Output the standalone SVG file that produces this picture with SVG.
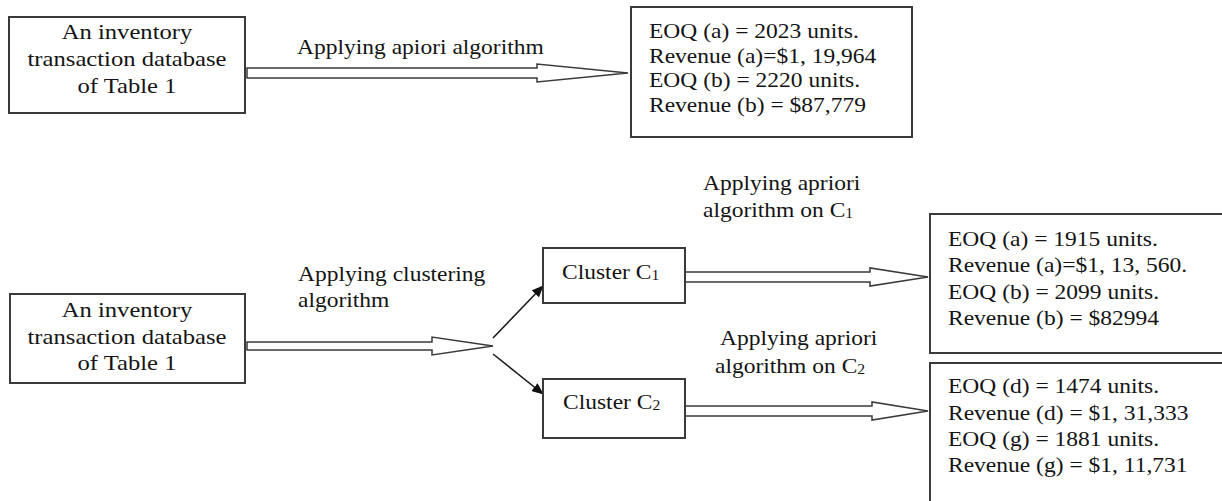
<svg xmlns="http://www.w3.org/2000/svg" width="1222" height="501" viewBox="0 0 1222 501">
  <style>
    .box { fill: #ffffff; stroke: #3a3a3a; stroke-width: 2; }
    .hollow { fill: #ffffff; stroke: #3a3a3a; stroke-width: 1.5; stroke-linejoin: miter; }
    .link { fill: none; stroke: #1a1a1a; stroke-width: 1.6; }
    text { font-family: "Liberation Serif", "Times New Roman", serif; fill: #141414; }
    .in { font-size: 22px; text-anchor: middle; }
    .t { font-size: 21px; }
    .sub { font-size: 14px; }
  </style>
  <defs>
    <marker id="solidHead" viewBox="0 0 12 10" refX="11" refY="5" markerWidth="12" markerHeight="10" markerUnits="userSpaceOnUse" orient="auto">
      <path d="M0,0 L12,5 L0,10 Z" fill="#111111"/>
    </marker>
  </defs>

  <rect width="1222" height="501" fill="#ffffff"/>

  <!-- connectors -->
  <g id="connectors">
    <polygon class="hollow" points="247,68 537,68 537,64 628,73 537,82 537,78 247,78"/>
    <polygon class="hollow" points="247,342 432,342 432,337 493,346 432,355 432,350 247,350"/>
    <polygon class="hollow" points="685,272 870,272 870,268 928,277 870,286 870,282 685,282"/>
    <polygon class="hollow" points="685,406 872,406 872,402 928,411 872,420 872,416 685,416"/>
    <line class="link" x1="493" y1="338" x2="543" y2="286" marker-end="url(#solidHead)"/>
    <line class="link" x1="493" y1="354" x2="543" y2="394" marker-end="url(#solidHead)"/>
  </g>

  <!-- connector labels -->
  <g id="labels">
    <text class="t" transform="translate(297,54) scale(1.12,1)">Applying apiori algorithm</text>
    <text class="t" transform="translate(298,281) scale(1.12,1)">Applying clustering</text>
    <text class="t" transform="translate(298,307) scale(1.12,1)">algorithm</text>
    <text class="t" transform="translate(703,190) scale(1.12,1)">Applying apriori</text>
    <text class="t" transform="translate(703,217) scale(1.12,1)">algorithm on C<tspan class="sub" dy="1">1</tspan></text>
    <text class="t" transform="translate(720,345) scale(1.12,1)">Applying apriori</text>
    <text class="t" transform="translate(715,373) scale(1.12,1)">algorithm on C<tspan class="sub" dy="1">2</tspan></text>
  </g>

  <!-- input database, top flow -->
  <g id="db-top">
    <rect class="box" x="9" y="17" width="236" height="96"/>
    <text class="in" transform="translate(127,39) scale(1.12,1)">An inventory</text>
    <text class="in" transform="translate(127,66) scale(1.12,1)">transaction database</text>
    <text class="in" transform="translate(127,93) scale(1.12,1)">of Table 1</text>
  </g>

  <!-- result of apriori on the whole database -->
  <g id="result-top">
    <rect class="box" x="631" y="7" width="281" height="130"/>
    <text class="t" transform="translate(649,38) scale(1.12,1)">EOQ (a) = 2023 units.</text>
    <text class="t" transform="translate(649,63) scale(1.12,1)">Revenue (a)=$1, 19,964</text>
    <text class="t" transform="translate(649,87) scale(1.12,1)">EOQ (b) = 2220 units.</text>
    <text class="t" transform="translate(649,112) scale(1.12,1)">Revenue (b) = $87,779</text>
  </g>

  <!-- input database, clustered flow -->
  <g id="db-bottom">
    <rect class="box" x="10" y="294" width="235" height="89"/>
    <text class="in" transform="translate(127,317) scale(1.12,1)">An inventory</text>
    <text class="in" transform="translate(127,344) scale(1.12,1)">transaction database</text>
    <text class="in" transform="translate(127,370) scale(1.12,1)">of Table 1</text>
  </g>

  <g id="cluster-c1">
    <rect class="box" x="543" y="248" width="142" height="55"/>
    <text class="t" transform="translate(562,279) scale(1.12,1)">Cluster C<tspan class="sub" dy="1">1</tspan></text>
  </g>

  <g id="cluster-c2">
    <rect class="box" x="543" y="379" width="142" height="59"/>
    <text class="t" transform="translate(563,409) scale(1.12,1)">Cluster C<tspan class="sub" dy="1">2</tspan></text>
  </g>

  <g id="result-c1">
    <rect class="box" x="930" y="214" width="310" height="139"/>
    <text class="t" transform="translate(948,246) scale(1.12,1)">EOQ (a) = 1915 units.</text>
    <text class="t" transform="translate(948,272) scale(1.12,1)">Revenue (a)=$1, 13, 560.</text>
    <text class="t" transform="translate(948,299) scale(1.12,1)">EOQ (b) = 2099 units.</text>
    <text class="t" transform="translate(948,325) scale(1.12,1)">Revenue (b) = $82994</text>
  </g>

  <g id="result-c2">
    <rect class="box" x="930" y="363" width="310" height="160"/>
    <text class="t" transform="translate(948,393) scale(1.12,1)">EOQ (d) = 1474 units.</text>
    <text class="t" transform="translate(948,420) scale(1.12,1)">Revenue (d) = $1, 31,333</text>
    <text class="t" transform="translate(948,446) scale(1.12,1)">EOQ (g) = 1881 units.</text>
    <text class="t" transform="translate(948,472) scale(1.12,1)">Revenue (g) = $1, 11,731</text>
  </g>
</svg>
